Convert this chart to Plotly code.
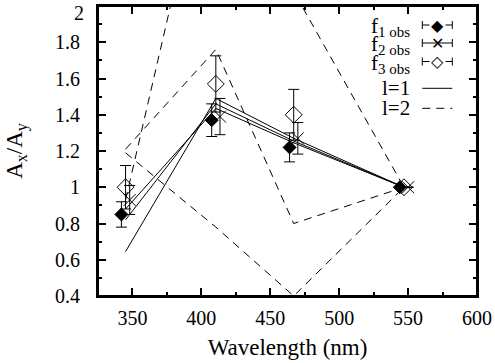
import plotly.graph_objects as go

# wavelengths (nm) of the four bands; observed sets are drawn slightly offset
wl = [345, 410.5, 467, 547]
f1_x = [342, 407.5, 464, 544]
f2_x = [348, 413.5, 470, 550]
f3_x = [345, 410.5, 467, 547]

f1_y = [0.85, 1.37, 1.22, 1.0]
f1_err = [0.07, 0.09, 0.08, 0.0]
f2_y = [0.93, 1.39, 1.27, 1.0]
f2_err = [0.08, 0.10, 0.087, 0.0]
f3_y = [1.0, 1.57, 1.40, 1.0]
f3_err = [0.12, 0.155, 0.14, 0.0]

# model curves
l1_a = [0.645, 1.49, 1.27, 1.0]
l1_b = [0.82, 1.46, 1.255, 1.0]
l1_c = [0.88, 1.435, 1.245, 1.0]
l2_a = [1.21, 1.76, 0.80, 1.0]
l2_b = [1.19, 0.78, 0.40, 1.0]
l2_c = [0.93, 3.08, 2.08, 1.0]

y_ticks = [0.4, 0.6, 0.8, 1.0, 1.2, 1.4, 1.6, 1.8, 2.0]
y_labels = ["0.4", "0.6", "0.8", "1", "1.2", "1.4", "1.6", "1.8", ""]
y_top_label = "2"   # drawn separately so it is not clipped at the page edge

FONT = "Liberation Serif"
DASH = "8px,6px"
fig = go.Figure()

for ys in [l1_a, l1_b, l1_c]:
    fig.add_trace(go.Scatter(x=wl, y=ys, mode="lines",
                             line=dict(color="black", width=1)))
for ys in [l2_a, l2_b, l2_c]:
    fig.add_trace(go.Scatter(x=wl, y=ys, mode="lines",
                             line=dict(color="black", width=1, dash=DASH)))

def obs(x, y, err, symbol, size):
    return go.Scatter(
        x=x, y=y, mode="markers",
        marker=dict(symbol=symbol, size=size, color="black",
                    line=dict(color="black", width=1)),
        error_y=dict(type="data", array=err, color="black",
                     thickness=1, width=5.5))

fig.add_trace(obs(f3_x, f3_y, f3_err, "diamond-open", 13))
fig.add_trace(obs(f2_x, f2_y, f2_err, "x-thin-open", 12))
fig.add_trace(obs(f1_x, f1_y, f1_err, "diamond", 10))

# gnuplot style key (text right aligned, sample on the right)
def px(x):
    return (x - 97.7) / 379.0

def py(y):
    return (296.0 - y) / 290.0

SUB = "<sub><span style='font-size:15px'>%s</span></sub>"
key_text = ["f" + SUB % "1 obs", "f" + SUB % "2 obs", "f" + SUB % "3 obs", "l=1", "l=2"]
key_rows = [25, 43, 61.5, 88.3, 108.3]
key_glyph = ["◆", "✕", "◇", "", ""]
shapes = [dict(type="rect", xref="paper", yref="paper", x0=0, x1=1, y0=0, y1=1,
               line=dict(color="black", width=2), layer="above")]
annotations = [dict(xref="paper", yref="paper", x=px(85.5), y=py(0.5),
                    xanchor="right", yanchor="top", text=y_top_label, showarrow=False,
                    font=dict(family=FONT, size=20, color="black"))]
for i, (t, r, g) in enumerate(zip(key_text, key_rows, key_glyph)):
    annotations.append(dict(xref="paper", yref="paper", x=px(412), y=py(r + (2 if i < 3 else 0)),
                            xanchor="right", yanchor="middle", text=t, showarrow=False,
                            font=dict(family=FONT, size=21, color="black")))
    shapes.append(dict(type="line", xref="paper", yref="paper",
                       x0=px(422), x1=px(452), y0=py(r), y1=py(r),
                       line=dict(color="black", width=1, dash=DASH if i == 4 else "solid")))
    if i < 3:
        for xc in (422, 452):
            shapes.append(dict(type="line", xref="paper", yref="paper",
                               x0=px(xc), x1=px(xc), y0=py(r - 4), y1=py(r + 4),
                               line=dict(color="black", width=1)))
        annotations.append(dict(xref="paper", yref="paper", x=px(437), y=py(r),
                                xanchor="center", yanchor="middle", text=g, showarrow=False,
                                bgcolor="white" if i != 1 else None,
                                font=dict(family="DejaVu Sans", size=16, color="black")))

fig.update_layout(
    width=495, height=363,
    margin=dict(l=98, r=18, t=6, b=67),
    paper_bgcolor="white", plot_bgcolor="white",
    showlegend=False,
    font=dict(family=FONT, size=20, color="black"),
    shapes=shapes, annotations=annotations,
    xaxis=dict(range=[325, 600], dtick=50, tick0=0, showgrid=False, zeroline=False,
               automargin=False, ticklabeloverflow="allow",
               showline=True, linecolor="black", linewidth=2, mirror="ticks",
               ticks="inside", ticklen=8, tickwidth=1.5, tickcolor="black",
               minor=dict(dtick=25, ticks="inside", ticklen=4, tickwidth=1.5, tickcolor="black"),
               ticklabelstandoff=3,
               title=dict(text="Wavelength (nm)", font=dict(family=FONT, size=23), standoff=11)),
    yaxis=dict(range=[0.4, 2], tickvals=y_ticks, ticktext=y_labels,
               showgrid=False, zeroline=False, automargin=False, ticklabeloverflow="allow",
               showline=True, linecolor="black", linewidth=2, mirror="ticks",
               ticks="inside", ticklen=8, tickwidth=1.5, tickcolor="black",
               minor=dict(dtick=0.1, ticks="inside", ticklen=4, tickwidth=1.5, tickcolor="black"),
               ticklabelstandoff=12,
               title=dict(text="A<sub>x</sub>/A<sub>y</sub>", font=dict(family=FONT, size=23), standoff=26)),
)

fig.write_html("out.html", config={"displayModeBar": False},
               post_script="document.body.style.margin='0';")
